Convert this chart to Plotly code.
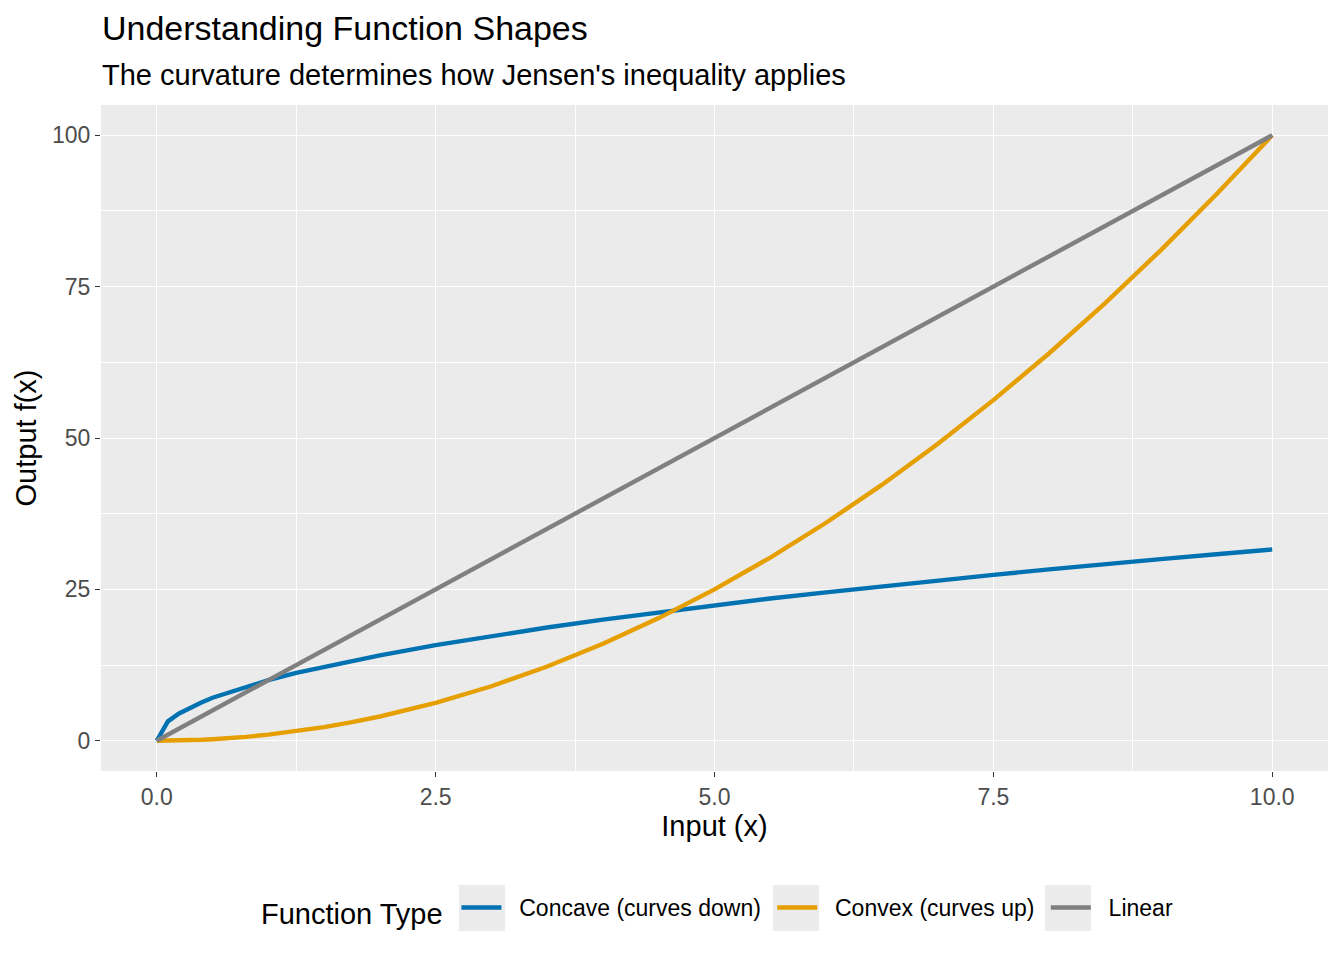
import plotly.graph_objects as go

x_vals = [0, 0.1, 0.2, 0.3, 0.4, 0.5, 0.6, 0.8, 1.0, 1.25, 1.5, 1.75, 2.0, 2.5, 3.0,
          3.5, 4.0, 4.5, 5.0, 5.5, 6.0, 6.5, 7.0, 7.5, 8.0, 8.5, 9.0, 9.5, 10.0]
concave = [0, 3.2, 4.5, 5.5, 6.3, 7.1, 7.7, 8.9, 10.0, 11.2, 12.2, 13.2, 14.1, 15.8, 17.3,
           18.7, 20.0, 21.2, 22.4, 23.5, 24.5, 25.5, 26.5, 27.4, 28.3, 29.2, 30.0, 30.8, 31.6]
convex = [0, 0.01, 0.04, 0.09, 0.16, 0.25, 0.36, 0.64, 1.0, 1.56, 2.25, 3.06, 4.0, 6.25, 9.0,
          12.25, 16.0, 20.25, 25.0, 30.25, 36.0, 42.25, 49.0, 56.25, 64.0, 72.25, 81.0, 90.25, 100.0]
linear = [0, 1, 2, 3, 4, 5, 6, 8, 10, 12.5, 15, 17.5, 20, 25, 30,
          35, 40, 45, 50, 55, 60, 65, 70, 75, 80, 85, 90, 95, 100]

series_names = ["Concave (curves down)", "Convex (curves up)", "Linear"]
series_vals = [concave, convex, linear]
colors = ["#0072B2", "#E69F00", "#808080"]

x_ticks = [0, 2.5, 5, 7.5, 10]
x_ticktext = ["0.0", "2.5", "5.0", "7.5", "10.0"]
y_ticks = [0, 25, 50, 75, 100]

FONT = "Liberation Sans, Arial, sans-serif"
NB = "\u00a0"

fig = go.Figure()
for name, vals, col in zip(series_names, series_vals, colors):
    fig.add_trace(go.Scatter(x=x_vals, y=vals, mode="lines", name=NB + NB + name + NB,
                             line=dict(color=col, width=4.4)))

axis_common = dict(
    showgrid=True, gridcolor="white", gridwidth=1.4,
    zeroline=False, showline=False,
    ticks="outside", ticklen=5, tickcolor="#333333", tickwidth=1.3,
    tickfont=dict(family=FONT, size=23, color="#4D4D4D"),
)

fig.update_xaxes(range=[-0.5, 10.5], tickvals=x_ticks, ticktext=x_ticktext,
                 title=dict(text="Input (x)", font=dict(family=FONT, size=29, color="black"), standoff=6),
                 minor=dict(dtick=1.25, tick0=0, showgrid=True, gridcolor="white", gridwidth=0.7, ticks=""),
                 **axis_common)
fig.update_yaxes(range=[-5, 105], tickvals=y_ticks,
                 title=dict(text="Output f(x)", font=dict(family=FONT, size=29, color="black"), standoff=6),
                 minor=dict(dtick=12.5, tick0=0, showgrid=True, gridcolor="white", gridwidth=0.7, ticks=""),
                 **axis_common)

# grey legend key backgrounds (ggplot style), paper coordinates
key_x0 = [0.2918, 0.5477, 0.7694]
key_w = 0.0375
shapes = [dict(type="rect", xref="paper", yref="paper", x0=x0, x1=x0 + key_w,
               y0=-0.2402, y1=-0.1712, fillcolor="#EBEBEB", line=dict(width=0), layer="above")
          for x0 in key_x0]

fig.update_layout(
    width=1328, height=952,
    margin=dict(l=93, r=8, t=97, b=189),
    paper_bgcolor="white", plot_bgcolor="#EBEBEB",
    font=dict(family=FONT, color="black"),
    showlegend=True,
    shapes=shapes,
    legend=dict(orientation="h", x=0.5057, xanchor="center", y=-0.2087, yanchor="middle",
                title=dict(text="Function Type\u2009", font=dict(family=FONT, size=29, color="black")),
                font=dict(family=FONT, size=23, color="black"),
                itemwidth=40, bgcolor="rgba(0,0,0,0)"),
    annotations=[
        dict(text="Understanding Function Shapes", xref="paper", yref="paper", x=0, y=1.115,
             xanchor="left", yanchor="middle", showarrow=False, xshift=-1,
             font=dict(family=FONT, size=34, color="black")),
        dict(text="The curvature determines how Jensen's inequality applies", xref="paper", yref="paper",
             x=0, y=1.045, xanchor="left", yanchor="middle", showarrow=False, xshift=-1,
             font=dict(family=FONT, size=29, color="black")),
    ],
)

fig.write_html("out.html")
